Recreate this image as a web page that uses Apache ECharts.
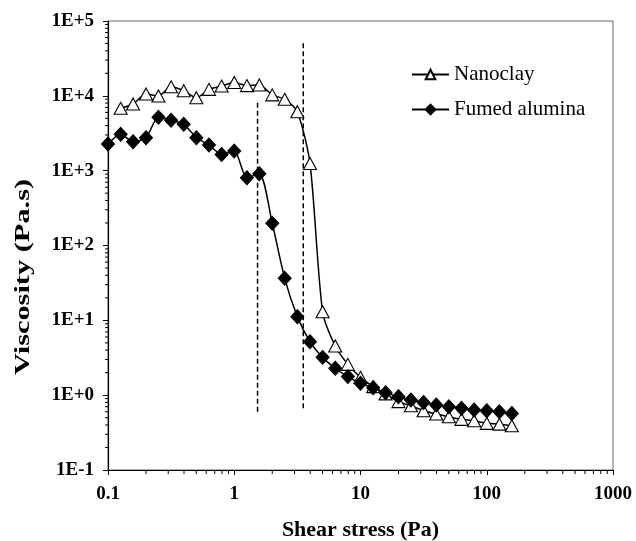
<!DOCTYPE html>
<html><head><meta charset="utf-8">
<script src="https://cdn.jsdelivr.net/npm/echarts@6/dist/echarts.min.js"></script>
<style>html,body{margin:0;padding:0;background:#fff}#c{width:636px;height:541px}</style>
</head><body><div id="c"></div>
<script>
// ---- data ----
const nanoclayStress = [0.126,0.158,0.2,0.251,0.316,0.398,0.501,0.631,0.794,1.0,1.26,1.58,2.0,2.51,3.16,3.98,5.01,6.31,7.94,10,12.6,15.8,20,25.1,31.6,39.8,50.1,63.1,79.4,100,126,158];
const nanoclayViscosity = [6810,7780,10600,9950,13200,11700,9440,12200,13500,15100,13700,13960,10300,8980,6130,1250,13.0,4.54,2.58,1.73,1.30,1.04,0.82,0.72,0.62,0.56,0.515,0.475,0.456,0.42,0.41,0.39];
const aluminaStress = [0.1,0.126,0.158,0.2,0.251,0.316,0.398,0.501,0.631,0.794,1.0,1.26,1.58,2.0,2.51,3.16,3.98,5.01,6.31,7.94,10,12.6,15.8,20,25.1,31.6,39.8,50.1,63.1,79.4,100,126,158];
const aluminaViscosity = [2270,3060,2440,2760,5160,4710,4160,2760,2200,1650,1830,805,912,198,36.4,11.2,5.19,3.2,2.29,1.77,1.44,1.26,1.08,0.955,0.86,0.80,0.74,0.70,0.667,0.634,0.62,0.60,0.57];
const dashLine1 = [[1.53, 8100], [1.53, 0.58]];
const dashLine2 = [[3.52, 50300], [3.52, 0.67]];
const xTicks = [0.1, 1, 10, 100, 1000];
const xTickLabels = ['0.1', '1', '10', '100', '1000'];
const yTicks = [0.1, 1, 10, 100, 1000, 10000, 100000];
const yTickLabels = ['1E-1', '1E+0', '1E+1', '1E+2', '1E+3', '1E+4', '1E+5'];
const seriesNames = ['Nanoclay', 'Fumed alumina'];
const xTitle = 'Shear stress (Pa)';
const yTitle = 'Viscosity (Pa.s)';

const zip = (a, b) => a.map((v, i) => [v, b[i]]);
const FONT = '"Liberation Serif", "Times New Roman", serif';
const chart = echarts.init(document.getElementById('c'), null, {renderer: 'canvas'});

function labelFor(ticks, labels) {
  return v => {
    const e = Math.round(Math.log10(v));
    const i = ticks.findIndex(t => Math.round(Math.log10(t)) === e);
    return i >= 0 ? labels[i] : '';
  };
}

const option = {
  animation: false,
  backgroundColor: '#fff',
  grid: {left: 108, right: 23, top: 21, bottom: 71, show: true, borderColor: '#666', borderWidth: 1,
         containLabel: false, outerBoundsMode: 'none'},
  legend: {
    data: seriesNames, orient: 'vertical', left: 406, top: 59, padding: 5,
    itemWidth: 37, itemHeight: 12, itemGap: 14,
    textStyle: {fontFamily: FONT, fontSize: 21, color: '#000'}
  },
  xAxis: {
    type: 'log', logBase: 10, min: xTicks[0], max: xTicks[xTicks.length - 1], splitNumber: 4,
    name: xTitle, nameLocation: 'middle', nameGap: 49,
    nameTextStyle: {fontFamily: FONT, fontSize: 22, fontWeight: 'bold', color: '#000'},
    axisLine: {lineStyle: {color: '#000', width: 1.2}},
    axisTick: {show: true, inside: false, length: 5, lineStyle: {color: '#000'}},
    splitLine: {show: false},
    axisLabel: {fontFamily: FONT, fontSize: 19, fontWeight: 'bold', color: '#000', margin: 15, formatter: labelFor(xTicks, xTickLabels)}
  },
  yAxis: {
    type: 'log', logBase: 10, min: yTicks[0], max: yTicks[yTicks.length - 1], splitNumber: 6,
    axisLine: {lineStyle: {color: '#000', width: 1.2}},
    axisTick: {show: true, inside: false, length: 5, lineStyle: {color: '#000'}},
    splitLine: {show: false},
    axisLabel: {fontFamily: FONT, fontSize: 19, fontWeight: 'bold', color: '#000', margin: 14, formatter: labelFor(yTicks, yTickLabels)}
  },
  series: [
    {type: 'line', data: dashLine1, symbol: 'none', silent: true, z: 1,
     lineStyle: {color: '#000', width: 1.5, type: [5, 3]}},
    {type: 'line', data: dashLine2, symbol: 'none', silent: true, z: 1,
     lineStyle: {color: '#000', width: 1.5, type: [5, 3]}},
    {name: seriesNames[0], type: 'line', data: zip(nanoclayStress, nanoclayViscosity), smooth: 0.25, z: 2,
     symbol: 'triangle', symbolSize: [13, 12], showAllSymbol: true,
     lineStyle: {color: '#000', width: 1.5},
     itemStyle: {color: '#fff', borderColor: '#000', borderWidth: 1.1}},
    {name: seriesNames[1], type: 'line', data: zip(aluminaStress, aluminaViscosity), smooth: 0.25, z: 3,
     symbol: 'diamond', symbolSize: [13, 14], showAllSymbol: true,
     lineStyle: {color: '#000', width: 1.5},
     itemStyle: {color: '#000', borderColor: '#000', borderWidth: 1}}
  ]
};
chart.setOption(option);

// minor log ticks (2..9 per decade) positioned through the axis scales, plus the y title
const els = [];
const yBottom = chart.convertToPixel({yAxisIndex: 0}, yTicks[0]);
const xLeft = chart.convertToPixel({xAxisIndex: 0}, xTicks[0]);
for (let i = 0; i < xTicks.length - 1; i++) {
  for (let m = 2; m <= 9; m++) {
    const px = chart.convertToPixel({xAxisIndex: 0}, xTicks[i] * m);
    els.push({type: 'line', shape: {x1: px, y1: yBottom, x2: px, y2: yBottom + 4}, style: {stroke: '#000', lineWidth: 1}, silent: true});
  }
}
for (let i = 0; i < yTicks.length - 1; i++) {
  for (let m = 2; m <= 9; m++) {
    const py = chart.convertToPixel({yAxisIndex: 0}, yTicks[i] * m);
    els.push({type: 'line', shape: {x1: xLeft - 3, y1: py, x2: xLeft, y2: py}, style: {stroke: '#000', lineWidth: 1}, silent: true});
  }
}
els.push({type: 'text', x: 23, y: 277, rotation: Math.PI / 2, scaleX: 1.38, silent: true,
  style: {text: yTitle, font: 'bold 22px ' + FONT, fill: '#000', textAlign: 'center', textVerticalAlign: 'middle'}});
chart.setOption({graphic: {elements: els}});
</script>
</body></html>
